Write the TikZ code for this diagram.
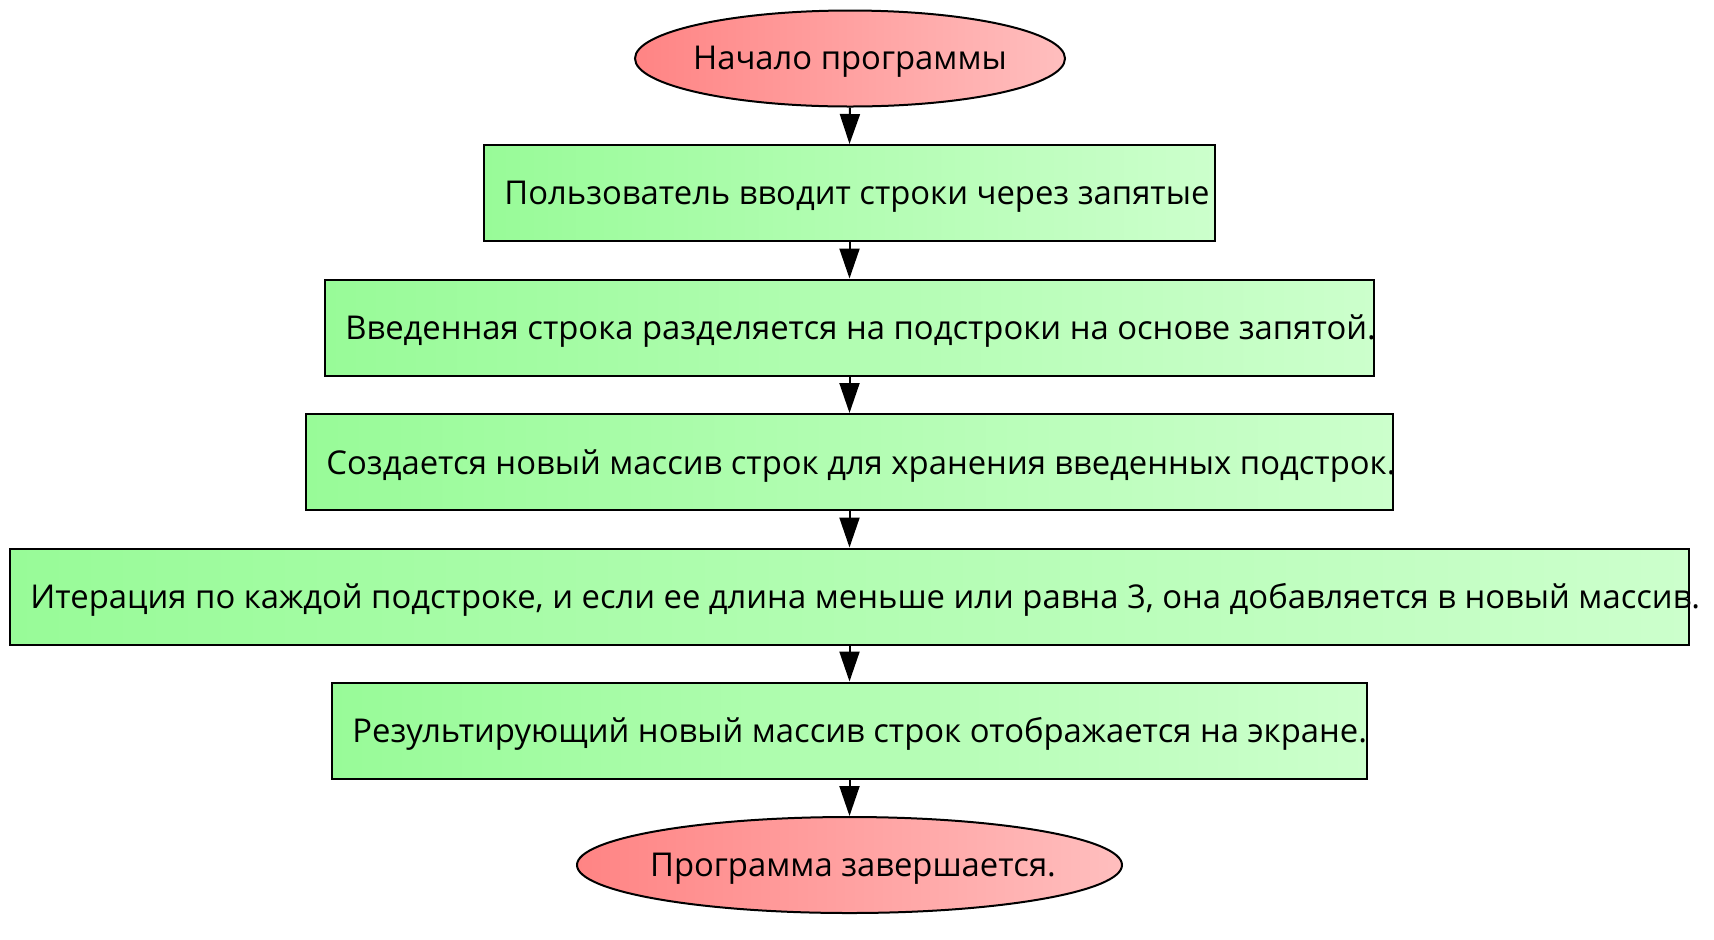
\documentclass[tikz,border=0pt]{standalone}
\usepackage{fontspec}
\setmainfont{Open Sans}
\usetikzlibrary{shapes.geometric,arrows.meta}
\definecolor{gL}{HTML}{98FB98}
\definecolor{gR}{HTML}{CCFFCC}
\definecolor{rL}{HTML}{FF8484}
\definecolor{rR}{HTML}{FFBEBE}
\tikzset{
  procbox/.style={draw=black, line width=1pt, rectangle, minimum height=48pt, inner sep=0pt, left color=gL, right color=gR},
  termnode/.style={draw=black, line width=1pt, ellipse, minimum height=48pt, inner sep=0pt, left color=rL, right color=rR},
  lbl/.style={font=\fontsize{16.4}{18}\selectfont, inner sep=0pt, yshift=-1.8pt},
  txt/.style={lbl, anchor=west, xshift=10.5pt},
  flow/.style={line width=1pt, -{Triangle[length=15pt,width=10pt]}}
}
\begin{document}
\begin{tikzpicture}[x=0.5pt,y=-0.5pt]
\useasboundingbox (0,0) rectangle (1714,939);
\node[termnode, minimum width=215pt] (e1) at (850,58.5) {};
\node[lbl] (t0) at (850,58.5) {Начало программы};
\node[procbox, minimum width=365.5pt] (b1) at (849.5,193) {};
\node[txt] (t1) at (b1.west) {Пользователь вводит строки через запятые};
\node[procbox, minimum width=524.5pt] (b2) at (849.5,327.5) {};
\node[txt] (t2) at (b2.west) {Введенная строка разделяется на подстроки на основе запятой.};
\node[procbox, minimum width=543.5pt] (b3) at (849.5,462) {};
\node[txt] (t3) at (b3.west) {Создается новый массив строк для хранения введенных подстрок.};
\node[procbox, minimum width=839.5pt] (b4) at (849.5,596.5) {};
\node[txt] (t4) at (b4.west) {Итерация по каждой подстроке, и если ее длина меньше или равна 3, она добавляется в новый массив.};
\node[procbox, minimum width=517.5pt] (b5) at (849.5,730.5) {};
\node[txt] (t5) at (b5.west) {Результирующий новый массив строк отображается на экране.};
\node[termnode, minimum width=272.5pt] (e2) at (849.5,865) {};
\node[lbl] (t6) at (853,865) {Программа завершается.};
\draw[flow] (e1.south) -- (b1.north);
\draw[flow] (b1.south) -- (b2.north);
\draw[flow] (b2.south) -- (b3.north);
\draw[flow] (b3.south) -- (b4.north);
\draw[flow] (b4.south) -- (b5.north);
\draw[flow] (b5.south) -- (e2.north);
\end{tikzpicture}
\end{document}
